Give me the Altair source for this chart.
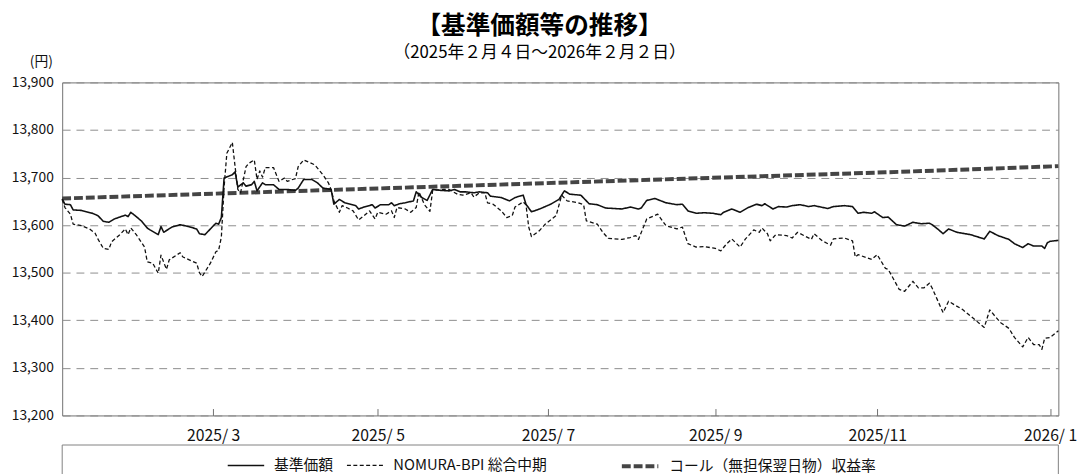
import altair as alt
import pandas as pd

FONT = "Noto Sans CJK JP"

START = "2025-02-04"
END = "2026-02-02"

series_names = ["基準価額", "NOMURA-BPI 総合中期", "コール（無担保翌日物）収益率"]

# 基準価額 (days since 2025-02-04, yen)
nav_days = [0, 1, 3, 4, 7, 11, 13, 15, 17, 19, 23, 24, 25, 27, 29, 31, 32, 35, 36, 37,
            40, 43, 46, 49, 50, 52, 54, 56, 57, 58, 59, 62, 63, 64, 66, 67, 69, 70, 71, 73,
            74, 77, 79, 82, 85, 86, 88, 91, 93, 95, 98, 99, 101, 103, 107, 108, 110, 113, 114, 116,
            119, 120, 121, 123, 125, 128, 129, 131, 133, 135, 138, 141, 143, 145, 147, 150, 152, 155, 156, 160,
            163, 165, 168, 169, 171, 174, 178, 181, 183, 185, 189, 192, 195, 198, 204, 207, 210, 211, 213, 216,
            220, 224, 226, 228, 231, 234, 237, 240, 241, 244, 247, 250, 253, 255, 256, 259, 261, 264, 266, 269,
            272, 274, 279, 281, 285, 288, 290, 292, 295, 296, 299, 301, 304, 307, 310, 313, 316, 317, 319, 321,
            323, 326, 331, 336, 338, 341, 345, 347, 350, 352, 354, 357, 358, 359, 360, 363]
nav_vals = [13655, 13644, 13643, 13632, 13631, 13625, 13620, 13608, 13606, 13613, 13621, 13618, 13627, 13618, 13608, 13594, 13590, 13580, 13597, 13585,
            13596, 13601, 13597, 13592, 13582, 13580, 13592, 13604, 13602, 13616, 13699, 13706, 13712, 13680, 13689, 13682, 13685, 13692, 13672, 13689,
            13685, 13685, 13675, 13675, 13673, 13678, 13696, 13696, 13689, 13678, 13675, 13644, 13654, 13647, 13641, 13634, 13638, 13643, 13636, 13643,
            13643, 13647, 13641, 13645, 13647, 13651, 13670, 13658, 13652, 13675, 13673, 13672, 13675, 13670, 13670, 13668, 13670, 13668, 13661, 13658,
            13651, 13658, 13663, 13644, 13628, 13634, 13644, 13654, 13672, 13665, 13663, 13645, 13643, 13636, 13634, 13638, 13634, 13636, 13652, 13656,
            13647, 13643, 13644, 13630, 13625, 13626, 13625, 13622, 13627, 13634, 13627, 13637, 13644, 13641, 13645, 13634, 13639, 13638, 13641, 13643,
            13639, 13641, 13635, 13639, 13641, 13639, 13625, 13627, 13625, 13628, 13616, 13617, 13601, 13598, 13606, 13603, 13604, 13601, 13592, 13582,
            13592, 13585, 13580, 13571, 13587, 13578, 13570, 13561, 13553, 13561, 13556, 13556, 13551, 13563, 13566, 13568]

# NOMURA-BPI 総合中期 (indexed to the fund)
bpi_days = [0, 1, 3, 4, 7, 10, 12, 13, 15, 17, 18, 21, 23, 24, 25, 27, 30, 31, 33, 35,
            36, 38, 39, 43, 44, 49, 50, 51, 54, 56, 57, 58, 59, 60, 62, 63, 64, 65, 67, 68,
            70, 71, 72, 73, 74, 77, 79, 81, 82, 85, 86, 88, 92, 95, 97, 98, 99, 101, 102, 104,
            106, 108, 110, 112, 114, 115, 118, 120, 121, 122, 125, 127, 129, 130, 132, 134, 135, 139, 141, 144,
            146, 149, 150, 152, 154, 155, 157, 160, 162, 164, 165, 168, 169, 170, 171, 174, 176, 180, 182, 184,
            188, 190, 191, 195, 197, 199, 204, 207, 209, 210, 213, 217, 220, 224, 226, 227, 228, 231, 234, 237,
            238, 240, 242, 244, 247, 249, 252, 254, 255, 257, 258, 260, 264, 266, 268, 271, 273, 274, 277, 280,
            281, 285, 288, 289, 290, 295, 297, 300, 301, 305, 307, 310, 312, 314, 316, 317, 321, 323, 325, 328,
            331, 336, 338, 340, 342, 345, 347, 350, 352, 354, 356, 357, 358, 360, 363]
bpi_vals = [13654, 13637, 13623, 13602, 13599, 13592, 13583, 13571, 13551, 13549, 13565, 13580, 13592, 13580, 13594, 13580, 13554, 13523, 13520, 13499,
            13537, 13507, 13527, 13542, 13533, 13520, 13500, 13492, 13520, 13544, 13547, 13575, 13680, 13751, 13774, 13723, 13675, 13668, 13723, 13730,
            13737, 13696, 13714, 13701, 13721, 13721, 13692, 13699, 13692, 13698, 13723, 13737, 13727, 13706, 13689, 13675, 13651, 13627, 13641, 13636,
            13630, 13611, 13620, 13630, 13613, 13627, 13623, 13630, 13616, 13637, 13634, 13627, 13637, 13670, 13643, 13629, 13673, 13675, 13675, 13665,
            13663, 13668, 13659, 13668, 13668, 13647, 13644, 13630, 13616, 13620, 13638, 13649, 13643, 13596, 13576, 13589, 13602, 13620, 13663, 13651,
            13647, 13643, 13609, 13602, 13585, 13572, 13570, 13574, 13578, 13570, 13613, 13623, 13599, 13592, 13596, 13578, 13561, 13554, 13555, 13552,
            13551, 13546, 13560, 13571, 13554, 13571, 13590, 13585, 13594, 13582, 13567, 13580, 13578, 13573, 13585, 13576, 13570, 13582, 13567, 13558,
            13571, 13573, 13567, 13533, 13538, 13528, 13538, 13509, 13507, 13465, 13461, 13482, 13468, 13468, 13478, 13468, 13416, 13440, 13433, 13423,
            13409, 13385, 13422, 13408, 13395, 13383, 13364, 13344, 13364, 13349, 13349, 13339, 13362, 13364, 13378]

# コール（無担保翌日物）収益率 (indexed)
call_days = [0, 60, 120, 180, 240, 300, 330, 363]
call_vals = [13656, 13667, 13678, 13689, 13700, 13711, 13717, 13724]

tick_dates = ["2025-03-31", "2025-05-30", "2025-07-31", "2025-09-30", "2025-11-28", "2026-01-30"]
tick_labels = ["2025/ 3", "2025/ 5", "2025/ 7", "2025/ 9", "2025/11", "2026/ 1"]
y_ticks = [13200, 13300, 13400, 13500, 13600, 13700, 13800, 13900]


def frame(days, vals, name):
    d = pd.Timestamp(START) + pd.to_timedelta(days, unit="D")
    return pd.DataFrame({"date": d.strftime("%Y-%m-%d"), "value": vals, "series": name})


data_main = pd.concat([
    frame(bpi_days, bpi_vals, series_names[1]),
    frame(nav_days, nav_vals, series_names[0]),
], ignore_index=True)
data_call = frame(call_days, call_vals, series_names[2])


def ms(s):
    return int(pd.Timestamp(s, tz="UTC").value // 10**6)


key = "utcFormat(datum.value, '%Y-%m-%d')"
label_expr = " : ".join(f"{key} == '{d}' ? '{l}'" for d, l in zip(tick_dates, tick_labels)) + " : ''"

W, H = 1011, 338

x_enc = alt.X(
    "date:T",
    scale=alt.Scale(type="utc", domain=[ms(START), ms(END)]),
    axis=alt.Axis(values=[ms(d) for d in tick_dates], labelExpr=label_expr, title=None,
                  grid=False, domain=False, ticks=True, tickSize=7, tickColor="#707070",
                  tickWidth=1, offset=-7, labelPadding=12, labelFont=FONT, labelFontSize=16,
                  labelColor="#111111", labelFlush=False))
y_enc = alt.Y(
    "value:Q",
    scale=alt.Scale(domain=[13200, 13900], nice=False, zero=False),
    axis=alt.Axis(values=y_ticks, format=",.0f", title="(円)", titleAngle=0, titleAlign="right",
                  titleBaseline="middle", titleX=-10, titleY=-21, titleFont=FONT,
                  titleFontSize=14, titleFontWeight="normal", titleColor="#111111",
                  labelFont=FONT, labelFontSize=14, labelColor="#111111", labelPadding=9,
                  ticks=False, domain=False, grid=True, gridColor="#8c8c8c",
                  gridDash=[8, 6], gridWidth=1, labelFlush=False))


def make_legend(x):
    return alt.Legend(
        title=None, orient="none", legendX=x, legendY=369, direction="horizontal",
        symbolType="stroke", symbolSize=1369, labelFont=FONT, labelFontSize=15,
        labelColor="#111111", labelOffset=9, columnPadding=10, padding=0, labelLimit=500)


leg_a = make_legend(167)
leg_b = make_legend(566)

main_names = series_names[:2]
lines_main = alt.Chart(data_main).mark_line(strokeCap="butt", strokeJoin="round").encode(
    x=x_enc, y=y_enc,
    color=alt.Color("series:N", scale=alt.Scale(domain=main_names, range=["#111111", "#111111"]), legend=leg_a),
    strokeDash=alt.StrokeDash("series:N", scale=alt.Scale(domain=main_names, range=[[1, 0], [4, 2.5]]),
                              legend=leg_a),
    strokeWidth=alt.StrokeWidth("series:N", scale=alt.Scale(type="ordinal", domain=main_names, range=[1.6, 1.3]),
                                legend=leg_a),
)

call_names = series_names[2:]
lines_call = alt.Chart(data_call).mark_line(strokeCap="butt", strokeJoin="round").encode(
    x=x_enc, y=y_enc,
    color=alt.Color("series:N", scale=alt.Scale(domain=call_names, range=["#454545"]), legend=leg_b),
    strokeDash=alt.StrokeDash("series:N", scale=alt.Scale(domain=call_names, range=[[9, 3]]), legend=leg_b),
    strokeWidth=alt.StrokeWidth("series:N", scale=alt.Scale(type="ordinal", domain=call_names, range=[4]),
                                legend=leg_b),
)

box = alt.Chart(pd.DataFrame({"k": [0]})).mark_rect(fill="white", fillOpacity=0, stroke="#808080",
                                                    strokeWidth=1).encode(
    x=alt.value(0), x2=alt.value(W), y=alt.value(368), y2=alt.value(400))

chart = alt.layer(box, lines_call, lines_main).resolve_scale(
    color="independent", strokeDash="independent", strokeWidth="independent"
).properties(
    width=W, height=H,
    padding={"left": 3, "top": 3, "right": 5, "bottom": 0},
    title=alt.Title(text="【基準価額等の推移】", subtitle="（2025年２月４日～2026年２月２日）",
                    font=FONT, fontSize=25, fontWeight="bold", color="#000000",
                    subtitleFont=FONT, subtitleFontSize=17, subtitleColor="#000000",
                    subtitlePadding=6, anchor="middle", frame="group", dx=-21, offset=-6),
).configure_view(stroke="#707070", strokeWidth=1)

chart.save("out.html", embed_options={"renderer": "svg", "actions": False})
